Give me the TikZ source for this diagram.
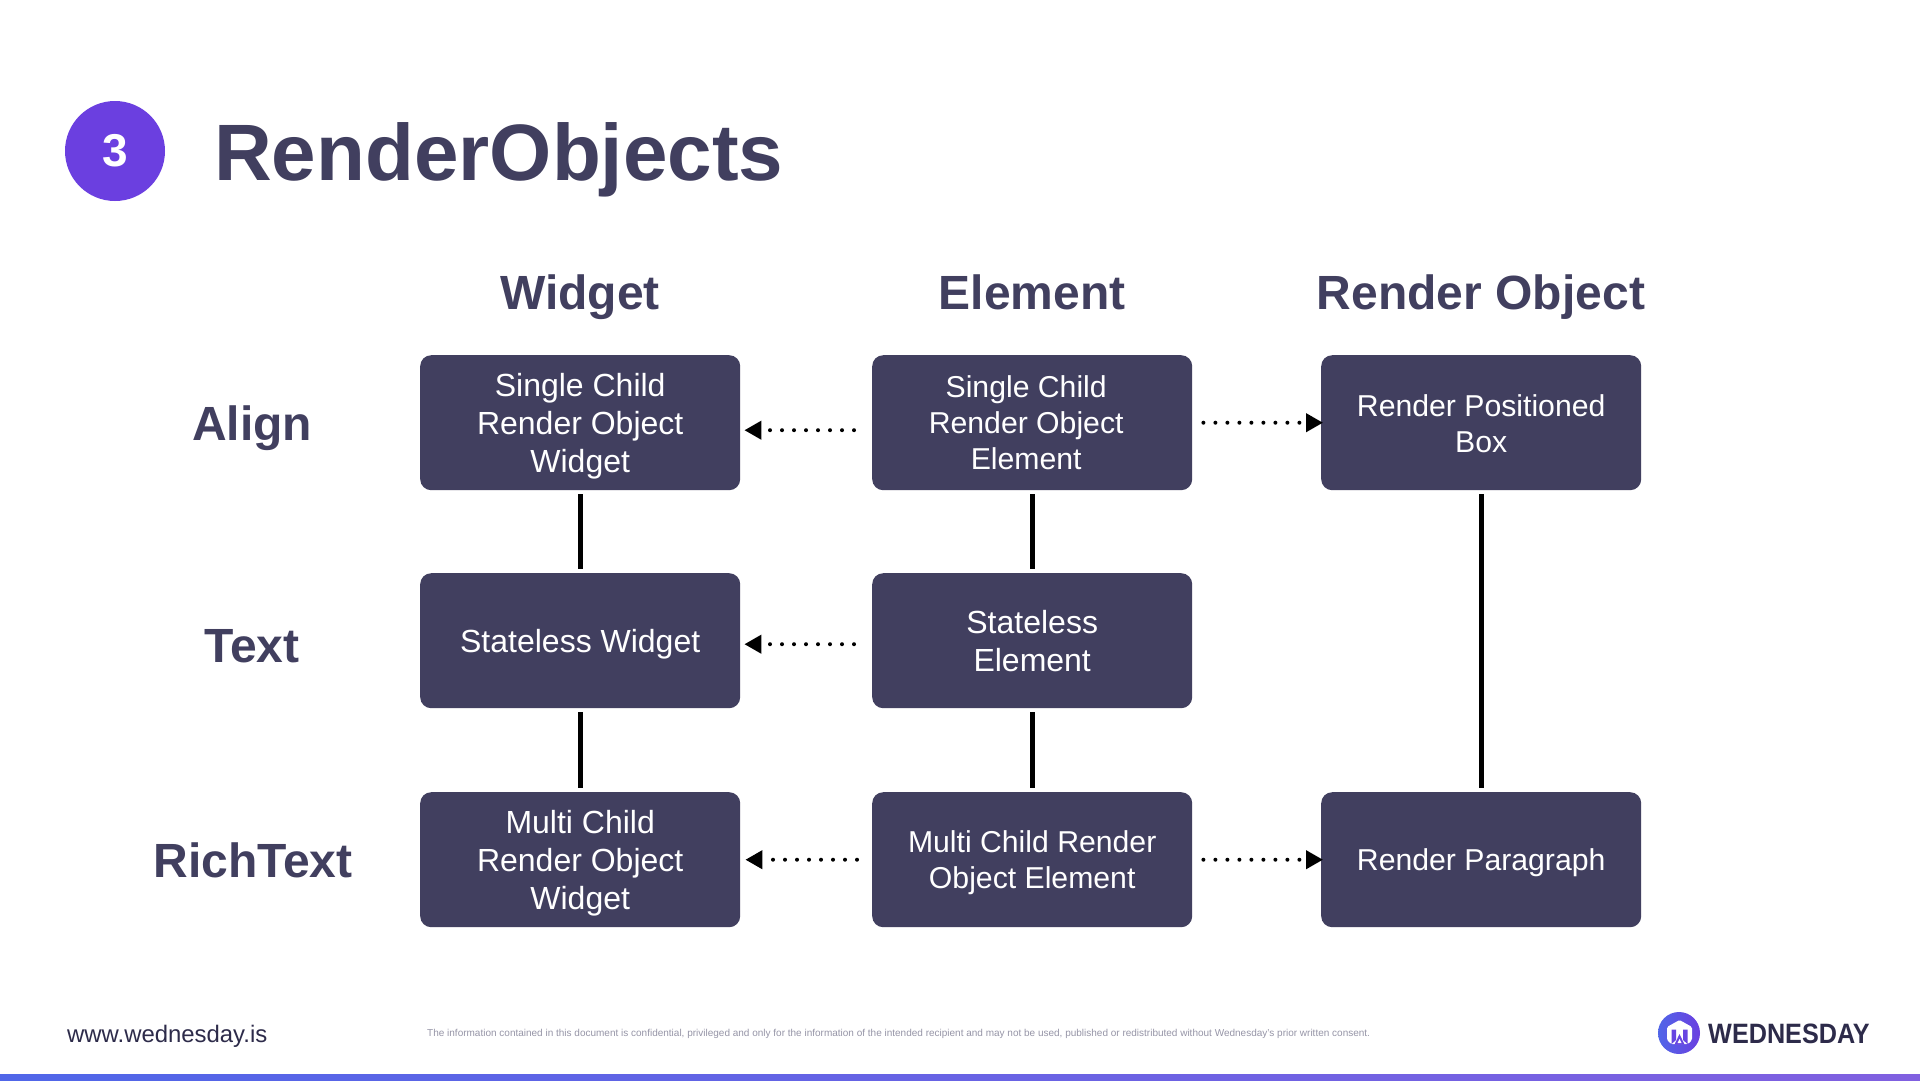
\documentclass[tikz,border=0pt]{standalone}
\usepackage{fontspec}
\usepackage{graphicx}
\setmainfont{Liberation Sans}
\usetikzlibrary{arrows.meta}
\definecolor{navy}{HTML}{413F5F}
\definecolor{purp}{HTML}{6B3FE0}
\definecolor{logoink}{HTML}{2D2B4A}
\definecolor{barleft}{HTML}{5066E8}
\definecolor{barright}{HTML}{8060E0}
\begin{document}
\begin{tikzpicture}[x=1pt,y=-1pt,
  card/.style={fill=navy,rounded corners=11pt,minimum width=320pt,minimum height=135pt,inner sep=0pt,anchor=north west},
  big/.style={text=white,align=center,inner sep=0pt,font=\fontsize{32}{38}\selectfont},
  mid/.style={text=white,align=center,inner sep=0pt,font=\fontsize{30.2}{36}\selectfont},
  head/.style={text=navy,font=\bfseries\fontsize{48}{54}\selectfont,inner sep=0pt},
  solidlink/.style={line width=5pt,black,shorten <=4pt,shorten >=4pt},
  dotlink/.style={line width=4pt,black,line cap=round,dash pattern=on 0pt off 12pt,-{Triangle[length=17pt,width=18pt]}},
]
\useasboundingbox (0,0) rectangle (1920,1080);
\fill[white] (0,0) rectangle (1920,1080);
% title
\node[circle,fill=purp,minimum size=100pt,inner sep=0pt,text=white,font=\bfseries\fontsize{46}{50}\selectfont] (badge) at (115,151) {3};
\node[text=navy,font=\bfseries\fontsize{80}{90}\selectfont,inner sep=0pt,anchor=west] (title) at (214,160) {RenderObjects};
% column heads
\node[head] (hw) at (580,297) {Widget};
\node[head] (he) at (1032,292) {Element};
\node[head] (hr) at (1481,297) {Render Object};
% row heads
\node[head] (ra) at (252,428) {Align};
\node[head] (rt) at (252,646) {Text};
\node[head] (rr) at (253,860) {RichText};
% cards
\node[card] (w1) at (420,355) {};
\node[card] (w2) at (420,573) {};
\node[card] (w3) at (420,792) {};
\node[card] (e1) at (872,355) {};
\node[card] (e2) at (872,573) {};
\node[card] (e3) at (872,792) {};
\node[card] (r1) at (1321,355) {};
\node[card] (r3) at (1321,792) {};
% card texts
\node[big] (w1t) at ([yshift=-3.7pt]w1.center) {Single Child\\Render Object\\Widget};
\node[big] (w2t) at ([yshift=-3.7pt]w2.center) {Stateless Widget};
\node[big] (w3t) at ([yshift=-3.7pt]w3.center) {Multi Child\\Render Object\\Widget};
\node[mid] (e1t) at ([xshift=-6pt,yshift=-0.4pt]e1.center) {Single Child\\Render Object\\Element};
\node[big] (e2t) at ([yshift=-0.6pt]e2.center) {Stateless\\Element};
\node[mid] (e3t) at ([yshift=-2.7pt]e3.center) {Multi Child Render\\Object Element};
\node[mid] (r1t) at ([yshift=-1.2pt]r1.center) {Render Positioned\\Box};
\node[mid] (r3t) at ([yshift=-2.7pt]r3.center) {Render Paragraph};
% solid links
\draw[solidlink] (w1.south) -- (w2.north);
\draw[solidlink] (w2.south) -- (w3.north);
\draw[solidlink] (e1.south) -- (e2.north);
\draw[solidlink] (e2.south) -- (e3.north);
\draw[solidlink] (r1.south) -- (r3.north);
% dotted links
\draw[dotlink,shorten <=18pt,shorten >=4pt] ([yshift=-7.5pt]e1.west) -- ([yshift=-7.5pt]w1.east);
\draw[dotlink,shorten <=18pt,shorten >=4pt] ([yshift=-3.5pt]e2.west) -- ([yshift=-3.5pt]w2.east);
\draw[dotlink,shorten <=15pt,shorten >=5pt] (e3.west) -- (w3.east);
\draw[dotlink,shorten <=11pt,shorten >=-2pt] (e1.east) -- (r1.west);
\draw[dotlink,shorten <=11pt,shorten >=-2pt] (e3.east) -- (r3.west);
% footer
\node[text=logoink,font=\fontsize{23.9}{28}\selectfont,anchor=west,inner sep=0pt] (url) at (67,1036) {www.wednesday.is};
\node[text=navy!55,font=\fontsize{10}{12}\selectfont,anchor=west,inner sep=0pt] (legal) at (427,1034) {The information contained in this document is confidential, privileged and only for the information of the intended recipient and may not be used, published or redistributed without Wednesday's prior written consent.};
% logo
\shade[left color=barleft,right color=purp] (1679,1033) circle (21);
\fill[white,rounded corners=1.5pt] (1667,1027) -- (1679.5,1020) -- (1692,1027) -- (1692,1040) -- (1688,1044) -- (1671,1044) -- (1667,1040) -- cycle;
\fill[purp!85!barleft] (1671.5,1029.5) -- (1676,1029.5) -- (1676,1040) -- (1671.5,1044) -- cycle;
\fill[purp!85!barleft] (1683,1029.5) -- (1687.5,1029.5) -- (1687.5,1044) -- (1683,1040) -- cycle;
\fill[purp!85!barleft] (1679.5,1034) -- (1684.5,1044.5) -- (1674.5,1044.5) -- cycle;
\fill[white] (1679.5,1039) -- (1681.5,1043) -- (1677.5,1043) -- cycle;
\node[text=logoink,font=\bfseries\fontsize{28}{34}\selectfont,anchor=west,inner sep=0pt] (brand) at (1708,1034) {\scalebox{0.9}[1]{WEDNESDAY}};
\shade[left color=barleft,right color=barright] (0,1074) rectangle (1920,1080);
\end{tikzpicture}
\end{document}
